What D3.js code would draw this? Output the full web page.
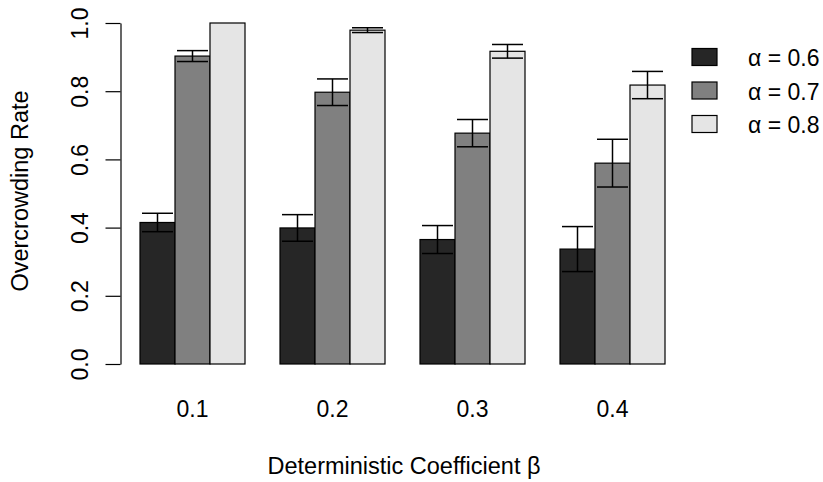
<!DOCTYPE html>
<meta charset="utf-8">
<style>
  body { margin: 0; background: #fff; }
  text { font-family: Arial, "Liberation Sans", sans-serif; fill: #000; }
</style>
<svg width="823" height="482"></svg>
<script src="https://cdn.jsdelivr.net/npm/d3@7/dist/d3.min.js"></script>
<script>
    // data
    var betas = ['0.1', '0.2', '0.3', '0.4'];
    var alphas = ['α = 0.6', 'α = 0.7', 'α = 0.8'];
    var rate06 = [0.415, 0.399, 0.365, 0.337];
    var rate07 = [0.903, 0.797, 0.677, 0.589];
    var rate08 = [1.000, 0.979, 0.917, 0.818];
    var err06 = [0.027, 0.039, 0.041, 0.066];
    var err07 = [0.016, 0.039, 0.040, 0.070];
    var err08 = [0.000, 0.007, 0.020, 0.040];
    var yTicks = [0, 0.2, 0.4, 0.6, 0.8, 1.0];
    var fills = ['#262626', '#808080', '#e5e5e5'];

    var rates = [rate06, rate07, rate08];
    var errs = [err06, err07, err08];
    var rows = [];
    betas.forEach(function (b, i) {
        alphas.forEach(function (a, j) {
            rows.push({ beta: b, alpha: a, v: rates[j][i], e: errs[j][i] });
        });
    });

    var svg = d3.select('svg');

    var x0 = d3.scaleBand().domain(betas).range([140, 665]).paddingInner(0.25);
    var x1 = d3.scaleBand().domain(alphas).range([0, x0.bandwidth()]);
    var y = d3.scaleLinear().domain([0, 1]).range([364, 23]);
    var z = d3.scaleOrdinal().domain(alphas).range(fills);

    // bars
    svg.append('g').selectAll('rect')
        .data(rows)
        .enter().append('rect')
        .attr('x', function (d) { return x0(d.beta) + x1(d.alpha); })
        .attr('y', function (d) { return y(d.v); })
        .attr('width', x1.bandwidth())
        .attr('height', function (d) { return y(0) - y(d.v); })
        .attr('fill', function (d) { return z(d.alpha); })
        .attr('stroke', '#000')
        .attr('stroke-width', 1.2);

    // error bars (zero-length ones are skipped, like R's arrows())
    var cap = 15.5;
    var eb = svg.append('g').attr('stroke', '#000').attr('stroke-width', 1.5)
        .selectAll('g')
        .data(rows.filter(function (d) { return d.e > 0; }))
        .enter().append('g')
        .attr('transform', function (d) {
            return 'translate(' + (x0(d.beta) + x1(d.alpha) + x1.bandwidth() / 2) + ',0)';
        });
    eb.append('line')
        .attr('y1', function (d) { return y(d.v - d.e); })
        .attr('y2', function (d) { return y(d.v + d.e); });
    eb.append('line').attr('x1', -cap).attr('x2', cap)
        .attr('y1', function (d) { return y(d.v + d.e); })
        .attr('y2', function (d) { return y(d.v + d.e); });
    eb.append('line').attr('x1', -cap).attr('x2', cap)
        .attr('y1', function (d) { return y(d.v - d.e); })
        .attr('y2', function (d) { return y(d.v - d.e); });

    // y axis, R style: rotated labels, ticks outward
    var yAxis = svg.append('g')
        .attr('transform', 'translate(120.5,0)')
        .call(d3.axisLeft(y).tickValues(yTicks).tickFormat(d3.format('.1f')).tickSize(15).tickSizeOuter(0));
    yAxis.select('.domain').attr('stroke-width', 1.2);
    yAxis.selectAll('.tick line').attr('stroke-width', 1.2);
    yAxis.selectAll('.tick text')
        .attr('x', null).attr('dy', null)
        .attr('text-anchor', 'middle')
        .attr('transform', 'translate(-33,0) rotate(-90)')
        .style('font-size', '23px');

    // x category labels, no axis line
    svg.append('g').selectAll('text')
        .data(betas)
        .enter().append('text')
        .attr('x', function (d) { return x0(d) + x0.bandwidth() / 2; })
        .attr('y', 417)
        .attr('text-anchor', 'middle')
        .style('font-size', '23px')
        .text(function (d) { return d; });

    // axis titles
    svg.append('text')
        .attr('x', 404).attr('y', 474)
        .attr('text-anchor', 'middle')
        .style('font-size', '23.5px')
        .text('Deterministic Coefficient β');
    svg.append('text')
        .attr('transform', 'translate(28,191) rotate(-90)')
        .attr('text-anchor', 'middle')
        .style('font-size', '23.5px')
        .text('Overcrowding Rate');

    // legend
    var legend = svg.append('g').selectAll('g')
        .data(alphas)
        .enter().append('g')
        .attr('transform', function (d, i) { return 'translate(692,' + (48.5 + i * 33.5) + ')'; });
    legend.append('rect')
        .attr('width', 25).attr('height', 17)
        .attr('fill', function (d) { return z(d); })
        .attr('stroke', '#000').attr('stroke-width', 1.2);
    legend.append('text')
        .attr('x', 56).attr('y', 17.5)
        .style('font-size', '23px')
        .text(function (d) { return d; });
</script>
